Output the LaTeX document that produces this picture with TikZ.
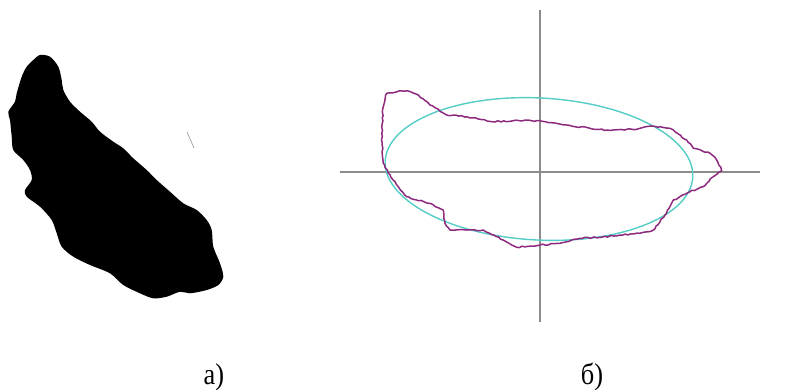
\documentclass[tikz,border=0pt]{standalone}
\usepackage{fontspec}
\setmainfont{Liberation Serif}
\usepackage{tikz}
\usetikzlibrary{positioning,decorations.pathmorphing}
\definecolor{AxisGrey}{HTML}{8C8C8C}
\definecolor{ContourMag}{HTML}{8E2A7E}
\definecolor{FitCyan}{HTML}{55CCC6}

\begin{document}
\begin{tikzpicture}[x=1pt, y=-1pt,
    axisline/.style={line width=2.2pt, AxisGrey},
    contour/.style={line width=1.5pt, ContourMag, line join=round,
      decoration={random steps, segment length=3pt, amplitude=0.7pt}, decorate},
    fitted/.style={line width=1.4pt, FitCyan},
    capt/.style={anchor=base, inner sep=0pt, xscale=0.88, transform shape,
      font=\fontsize{30}{32}\selectfont}]
    \pgfmathsetseed{7}
    \useasboundingbox (0,0) rectangle (793,389);
    % a) grain silhouette
    \fill[black] plot[smooth cycle, tension=0.5] coordinates {
      (40,55) (50,56.7) (58.3,66.7) (61.7,80) (63.3,90) (70,101.7) (80,111.7)
      (91.7,121.7) (100,131.7) (113.3,141.7) (123.3,148.3) (133.3,158.3)
      (146.7,170) (156.7,180) (170,191.7) (183.3,203.3) (196.7,210) (206.7,220)
      (211.7,230) (213.3,246.7) (220,263.3) (223.3,276.7) (218.3,285) (206.7,290)
      (190,293.3) (180,291.7) (166.7,296.7) (153.3,298.3) (140,293.3) (123.3,285)
      (110,273.3) (90,265) (73.3,256.7) (61.7,246.7) (56.7,233.3) (51.7,220)
      (40,206.7) (26.7,196.7) (25,190) (31.7,180) (30,170) (23.3,160) (13.3,150)
      (11.7,136.7) (10,120) (8.3,111.7) (15,101.7) (16.7,93.3) (21.7,76.7)
      (26.7,66.7) (33.3,60)};
    \draw[line width=0.8pt, black!35] (187,132) -- (194,148);
    % b) axes
    \coordinate (xl) at (340,172);
    \coordinate (xr) at (760,172);
    \coordinate (yt) at (540,10);
    \coordinate (yb) at (540,322);
    \draw[axisline] (xl) -- (xr);
    \draw[axisline] (yt) -- (yb);
    % fitted ellipse
    \draw[fitted] (539,169) ellipse[x radius=154, y radius=71, rotate=-3];
    % measured contour
    \draw[contour] (386.7,93.3) -- (406.7,90.7) -- (418.3,95) -- (430,105)
      -- (446.7,115) -- (466.7,116.7) -- (491.7,121.7) -- (513.3,120.7)
      -- (540,120.7) -- (566.7,125) -- (590,128.3) -- (606.7,130) -- (636.7,129.3)
      -- (651.7,126) -- (670,128.3) -- (686.7,140) -- (693.3,148.3) -- (710,153.3)
      -- (716.7,160) -- (721.7,170.7) -- (713.3,176.7) -- (703.3,186.7)
      -- (690,191.7) -- (673.3,200) -- (665,215) -- (660,221.7) -- (653.3,230)
      -- (640,233.3) -- (620,235) -- (600,237.3) -- (580,238.3) -- (560,243.3)
      -- (540,245) -- (516.7,247.3) -- (511.7,245) -- (496.7,236.7) -- (483.3,230)
      -- (466.7,230) -- (450,230) -- (445,223.3) -- (443.3,210) -- (430,203.3)
      -- (416.7,200) -- (406.7,196.7) -- (398.3,186.7) -- (388.3,173.3)
      -- (383.3,163.3) -- (381.7,133.3) -- (383.3,106.7) -- cycle;
    % captions
    \node[capt] (capta) at (214,384) {а)};
    \node[capt] (captb) at (592,384) {б)};
  \end{tikzpicture}
\end{document}
